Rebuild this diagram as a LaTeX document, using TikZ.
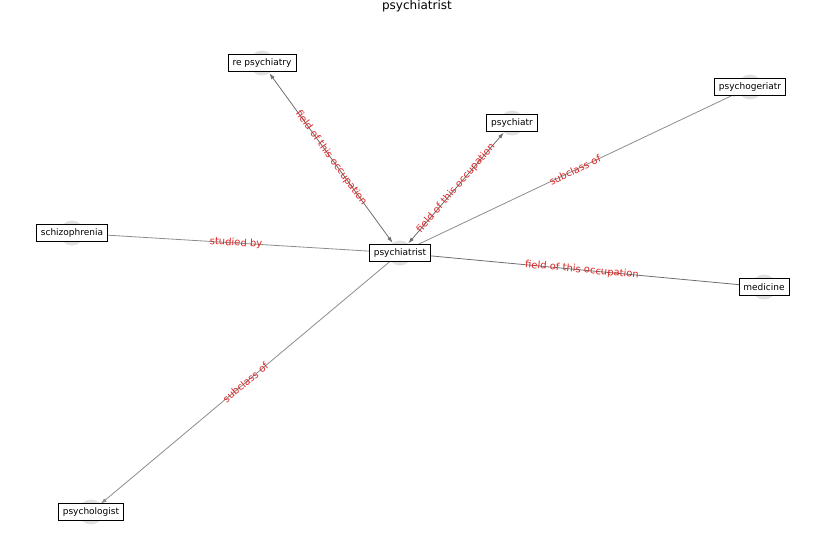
\documentclass[tikz,border=0pt]{standalone}
\usepackage{fontspec}
\setmainfont{DejaVu Sans}
\usetikzlibrary{arrows.meta}
\definecolor{dotgray}{rgb}{0.88,0.88,0.88}
\definecolor{edgegray}{rgb}{0.55,0.55,0.55}
\definecolor{pairgray}{rgb}{0.43,0.43,0.43}
\definecolor{labelred}{rgb}{0.86,0.14,0.14}

\begin{document}
\begin{tikzpicture}[x=1pt,y=-1pt,
    dot/.style={circle,fill=dotgray,minimum size=25pt,inner sep=0pt},
    box/.style={draw=black,fill=white,line width=0.7pt,font=\fontsize{9}{10}\selectfont,inner xsep=4.5pt,minimum height=17pt},
    link/.style={draw=edgegray,line width=0.8pt,-{Latex[length=6pt,width=4pt]}},
    pair/.style={draw=pairgray,line width=0.8pt,{Latex[length=6pt,width=4pt]}-{Latex[length=6pt,width=4pt]}},
    lbl/.style={midway,sloped,text=labelred,font=\fontsize{10}{12}\selectfont}]
    \useasboundingbox (0,0) rectangle (837,559);
    \node[font=\fontsize{12}{14}\selectfont](title) at (417,6) {psychiatrist};
        % grey discs
        \node[dot](psychiatrist) at (400,253) {};
        \node[dot](repsych) at (262,63) {};
        \node[dot](psychiatr) at (512,123) {};
        \node[dot](geriatr) at (750,87) {};
        \node[dot](schizo) at (72,233) {};
        \node[dot](medicine) at (764,287) {};
        \node[dot](psychologist) at (91,512) {};
        % edges
        \draw[pair] (psychiatrist) -- (repsych) node[lbl] {field of this occupation};
        \draw[pair] (psychiatrist) -- (psychiatr) node[lbl] {field of this occupation};
        \draw[link] (psychiatrist) -- (geriatr) node[lbl] {subclass of};
        \draw[link] (schizo) -- (psychiatrist) node[lbl] {studied by};
        \draw[pair] (psychiatrist) -- (medicine) node[lbl] {field of this occupation};
        \draw[link] (psychiatrist) -- (psychologist) node[lbl] {subclass of};
        % boxes
        \node[box](psychiatrist-b) at (psychiatrist.center) {psychiatrist};
        \node[box](repsych-b) at (repsych.center) {re psychiatry};
        \node[box](psychiatr-b) at (psychiatr.center) {psychiatr};
        \node[box](geriatr-b) at (geriatr.center) {psychogeriatr};
        \node[box](schizo-b) at (schizo.center) {schizophrenia};
        \node[box](medicine-b) at (medicine.center) {medicine};
        \node[box](psychologist-b) at (psychologist.center) {psychologist};
\end{tikzpicture}
\end{document}
